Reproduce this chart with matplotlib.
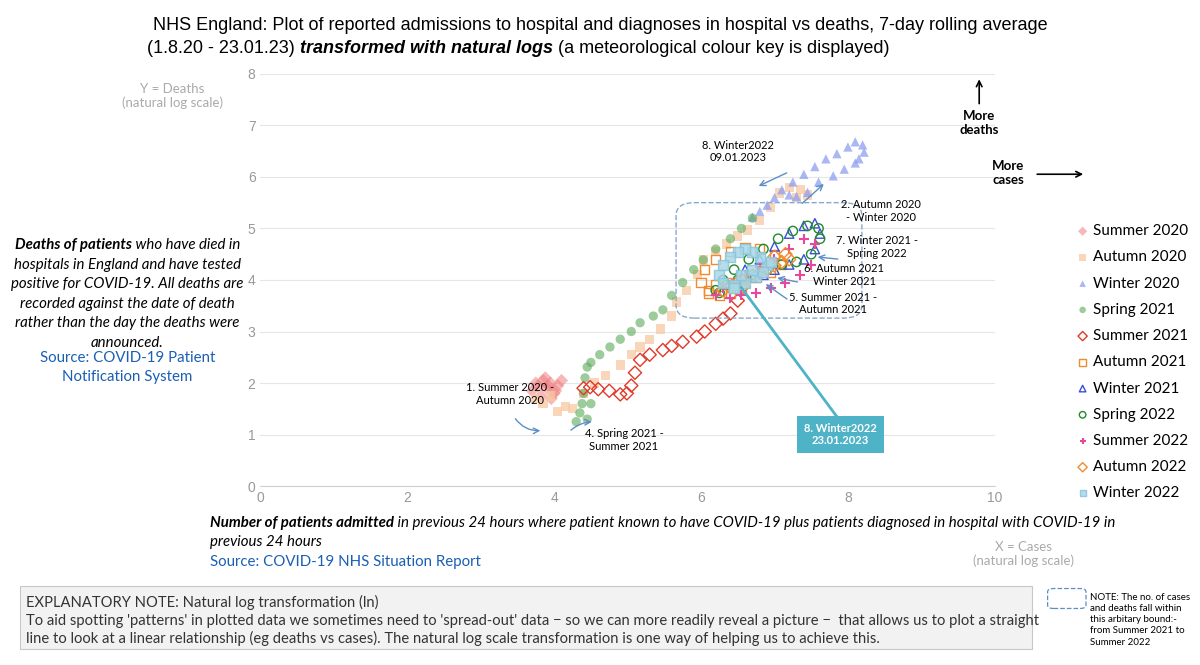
import matplotlib
matplotlib.use("Agg")
import matplotlib.pyplot as plt
from matplotlib.patches import FancyBboxPatch, Rectangle

plt.rcParams['font.family'] = ['Lato', 'DejaVu Sans']

su20_x = [3.70,3.78,3.85,3.90,3.95,4.00,4.05,4.10,3.82,3.88,3.96,4.02,3.75,3.92]
su20_y = [1.85,1.95,2.05,1.90,2.00,1.80,1.95,2.05,1.75,2.10,1.70,1.85,2.00,1.95]
au20_x = [3.75,3.85,3.95,4.05,4.15,4.25,4.40,4.55,4.70,4.90,5.05,5.17,5.30,5.45,5.60,5.67,5.80,5.95,6.03,6.20,6.35,6.50,6.63,6.80,6.95,7.07,7.20,7.35,7.45,7.30]
au20_y = [1.70,1.60,1.75,1.45,1.55,1.50,1.80,2.00,2.15,2.35,2.55,2.70,2.85,3.05,3.30,3.57,3.80,4.10,4.39,4.55,4.70,4.85,4.97,5.15,5.40,5.69,5.80,5.75,5.65,5.60]
wi20_x = [6.70,6.80,6.90,7.00,7.10,7.25,7.40,7.55,7.70,7.85,8.00,8.10,8.20,8.22,8.15,8.10,7.95,7.80,7.60,7.45,7.30,7.20]
wi20_y = [5.22,5.33,5.45,5.60,5.75,5.90,6.05,6.20,6.35,6.45,6.58,6.68,6.62,6.48,6.35,6.27,6.15,6.02,5.90,5.70,5.62,5.65]
sp21_x = [6.70,6.55,6.40,6.20,6.03,5.90,5.75,5.60,5.48,5.35,5.17,5.05,4.90,4.76,4.62,4.50,4.45,4.42,4.40,4.38,4.35,4.30,4.45,4.50]
sp21_y = [5.20,5.00,4.80,4.60,4.39,4.20,3.95,3.70,3.42,3.30,3.17,3.00,2.85,2.70,2.55,2.40,2.31,2.10,1.80,1.60,1.42,1.25,1.30,1.60]
su21_x = [4.40,4.49,4.60,4.75,4.90,4.99,5.05,5.10,5.17,5.30,5.48,5.60,5.75,5.94,6.05,6.20,6.30,6.40,6.50,6.57]
su21_y = [1.90,1.92,1.88,1.85,1.78,1.80,1.95,2.20,2.45,2.55,2.64,2.72,2.80,2.90,3.00,3.15,3.25,3.35,3.60,3.87]
au21_x = [6.55,6.40,6.25,6.10,6.00,6.05,6.20,6.40,6.60,6.80,7.00,7.10,6.95,6.75,6.55,6.35,6.20,6.10]
au21_y = [3.85,3.75,3.70,3.75,3.95,4.20,4.40,4.55,4.62,4.60,4.50,4.30,4.15,4.05,4.00,3.95,3.90,3.80]
wi21_x = [6.60,6.80,7.00,7.20,7.40,7.55,7.62,7.55,7.40,7.20,7.00,6.85,6.70]
wi21_y = [4.20,4.40,4.65,4.90,5.05,5.10,4.90,4.60,4.40,4.30,4.20,4.10,4.05]
sp22_x = [6.20,6.30,6.45,6.65,6.85,7.05,7.25,7.45,7.60,7.62,7.50,7.30,7.10,6.90,6.70,6.50,6.35,6.25]
sp22_y = [3.80,4.00,4.20,4.40,4.60,4.80,4.95,5.05,5.00,4.80,4.50,4.35,4.30,4.20,4.10,4.00,3.90,3.75]
su22_x = [6.20,6.30,6.45,6.60,6.80,7.00,7.20,7.40,7.55,7.50,7.35,7.15,6.95,6.75,6.55,6.40]
su22_y = [3.70,3.85,3.95,4.10,4.25,4.40,4.60,4.80,4.70,4.30,4.10,3.95,3.85,3.75,3.70,3.65]
au22_x = [6.30,6.40,6.50,6.60,6.70,6.80,6.90,7.00,7.10,7.20,7.15,7.00]
au22_y = [3.80,3.85,3.95,4.00,4.08,4.15,4.20,4.28,4.35,4.40,4.50,4.45]
wi22_x = [6.90,6.80,6.70,6.60,6.50,6.40,6.30,6.25,6.30,6.45,6.60,6.75,6.85,6.95,6.70,6.55,6.45]
wi22_y = [4.30,4.45,4.55,4.60,4.55,4.45,4.30,4.10,3.95,3.90,3.95,4.05,4.15,4.35,4.20,4.10,3.85]

fig = plt.figure(figsize=(12, 6.65), dpi=100)
ax = fig.add_axes([0.217, 0.269, 0.612, 0.62])
ax.set_xlim(0, 10); ax.set_ylim(0, 8)
ax.set_xticks(range(0, 11, 2)); ax.set_yticks(range(0, 9))
ax.grid(axis='y', color='#e6e6e6', lw=0.8)
ax.set_axisbelow(True)
for s in ['top', 'right', 'left']:
    ax.spines[s].set_visible(False)
ax.spines['bottom'].set_color('#d0d0d0')
ax.tick_params(colors='#999999', labelsize=10, length=0)
for t in ax.get_xticklabels() + ax.get_yticklabels():
    t.set_family('Liberation Sans')

ms = 45
series = [
    ("Summer 2020", su20_x, su20_y, dict(marker='D', c='#f08080', alpha=0.55, edgecolors='none', s=ms)),
    ("Autumn 2020", au20_x, au20_y, dict(marker='s', c='#f8c9a2', alpha=0.75, edgecolors='none', s=ms)),
    ("Winter 2020", wi20_x, wi20_y, dict(marker='^', c='#8f9ff0', alpha=0.75, edgecolors='none', s=ms)),
    ("Spring 2021", sp21_x, sp21_y, dict(marker='o', c='#5aaa5a', alpha=0.6, edgecolors='none', s=ms)),
    ("Summer 2021", su21_x, su21_y, dict(marker='D', facecolors='none', edgecolors='#e03a2a', s=ms)),
    ("Autumn 2021", au21_x, au21_y, dict(marker='s', facecolors='none', edgecolors='#f08c30', s=ms)),
    ("Winter 2021", wi21_x, wi21_y, dict(marker='^', facecolors='none', edgecolors='#3b4fd8', s=ms)),
    ("Spring 2022", sp22_x, sp22_y, dict(marker='o', facecolors='none', edgecolors='#1f8a2a', s=ms)),
    ("Summer 2022", su22_x, su22_y, dict(marker='+', c='#e8489a', s=ms)),
    ("Autumn 2022", au22_x, au22_y, dict(marker='D', facecolors='none', edgecolors='#f08c30', s=ms)),
    ("Winter 2022", wi22_x, wi22_y, dict(marker='s', c='#a8d8e8', alpha=0.85, edgecolors='#8ac4da', s=ms)),
]
for name, xs, ys, kw in series:
    ax.scatter(xs, ys, label=name, **kw)

leg = fig.legend(loc='upper left', bbox_to_anchor=(0.892, 0.672), frameon=False, borderaxespad=0,
                 fontsize=11, handletextpad=0.3, handlelength=0.8, labelspacing=0.8, markerscale=0.7)

box = FancyBboxPatch((5.66, 3.26), 2.53, 2.24, boxstyle="round,pad=0,rounding_size=0.25",
                     fill=False, ls='--', ec='#8aa8cc', lw=1)
ax.add_patch(box)

ac = '#5b8fc8'
fs = 8
ax.text(3.4, 1.6, "1. Summer 2020 -\nAutumn 2020", fontsize=fs, ha='center')
ax.annotate("", xy=(3.85, 1.08), xytext=(3.45, 1.35), arrowprops=dict(arrowstyle='->', color=ac, connectionstyle='arc3,rad=0.3'))
ax.text(4.95, 0.7, "4. Spring 2021 -\nSummer 2021", fontsize=fs, ha='center')
ax.annotate("", xy=(4.55, 1.25), xytext=(4.2, 1.05), arrowprops=dict(arrowstyle='->', color=ac, connectionstyle='arc3,rad=-0.2'))
ax.text(6.5, 6.3, "8. Winter2022\n09.01.2023", fontsize=fs, ha='center')
ax.annotate("", xy=(6.75, 5.8), xytext=(7.2, 6.1), arrowprops=dict(arrowstyle='->', color=ac))
ax.text(8.45, 5.15, "2. Autumn 2020\n- Winter 2020", fontsize=fs, ha='center')
ax.annotate("", xy=(7.7, 5.9), xytext=(7.35, 5.45), arrowprops=dict(arrowstyle='->', color=ac))
ax.text(8.4, 4.45, "7. Winter 2021 -\nSpring 2022", fontsize=fs, ha='center')
ax.annotate("", xy=(7.55, 4.45), xytext=(7.9, 4.4), arrowprops=dict(arrowstyle='->', color=ac))
ax.text(7.95, 3.9, "6. Autumn 2021\nWinter 2021", fontsize=fs, ha='center')
ax.annotate("", xy=(7.0, 4.05), xytext=(7.35, 3.95), arrowprops=dict(arrowstyle='->', color=ac))
ax.text(7.8, 3.35, "5. Summer 2021 -\nAutumn 2021", fontsize=fs, ha='center')
ax.annotate("", xy=(6.85, 3.95), xytext=(7.2, 3.6), arrowprops=dict(arrowstyle='->', color=ac))
ax.plot([6.55, 7.9], [3.85, 1.25], color='#4fb3c8', lw=2)
ax.text(7.9, 1.0, "8. Winter2022\n23.01.2023", fontsize=fs, ha='center', va='center', color='white',
        fontweight='bold', bbox=dict(boxstyle='square,pad=0.6', fc='#4fb3c8', ec='none'))

ax.text(-1.2, 7.35, "Y = Deaths\n(natural log scale)", color='#aaaaaa', fontsize=9.5, ha='center')
fig.text(0.853, 0.15, "X = Cases\n(natural log scale)", color='#aaaaaa', fontsize=9.5, ha='center')

fig.canvas.draw()
r = fig.canvas.get_renderer()
W = fig.bbox.width
def run(x, y, parts, center=False, **kw):
    texts = []
    for txt, extra in parts:
        k = dict(kw); k.update(extra)
        t = fig.text(x, y, txt, ha='left', **k)
        x = t.get_window_extent(r).x1 / W
        texts.append(t)
    if center:
        x0 = texts[0].get_window_extent(r).x0 / W
        shift = center - (x0 + x) / 2
        for t in texts:
            px, py = t.get_position()
            t.set_position((px + shift, py))

tf = dict(family='Liberation Sans', fontsize=13, va='top')
fig.text(0.5, 0.975, "NHS England: Plot of reported admissions to hospital and diagnoses in hospital vs deaths, 7-day rolling average",
         ha='center', **tf)
run(0.1225, 0.94, [("(1.8.20 - 23.01.23) ", {}), ("transformed with natural logs", dict(fontweight='bold', style='italic')),
                  (" (a meteorological colour key is displayed)", {})], **tf)

fig.text(0.816, 0.835, "More\ndeaths", fontsize=9.5, fontweight='bold', ha='center', va='top')
ax.annotate("", xy=(0.816, 0.885), xytext=(0.816, 0.84), xycoords='figure fraction', textcoords='figure fraction',
            arrowprops=dict(arrowstyle='->', lw=1.2), annotation_clip=False)
fig.text(0.84, 0.74, "More\ncases", fontsize=9.5, fontweight='bold', ha='center', va='center')
ax.annotate("", xy=(0.905, 0.738), xytext=(0.862, 0.738), xycoords='figure fraction', textcoords='figure fraction',
            arrowprops=dict(arrowstyle='->', lw=1.2), annotation_clip=False)

lf = 10.8
bf = dict(fontsize=lf, style='italic', va='center')
def yf(py):
    return 1 - py / 665
run(0.01, yf(245), [("Deaths of patients", dict(fontweight='bold')), (" who have died in", {})], center=0.106, **bf)
for i, line in enumerate(["hospitals in England and have tested", "positive for COVID-19. All deaths are",
                          "recorded against the date of death", "rather than the day the deaths were", "announced."]):
    fig.text(0.106, yf(265 + 19.4 * i), line, ha='center', **bf)
fig.text(0.106, yf(358), "Source: COVID-19 Patient", fontsize=lf, color='#1a5fb4', ha='center', va='center')
fig.text(0.106, yf(377), "Notification System", fontsize=lf, color='#1a5fb4', ha='center', va='center')

run(0.175, yf(523), [("Number of patients admitted", dict(fontweight='bold')),
                     (" in previous 24 hours where patient known to have COVID-19 plus patients diagnosed in hospital with COVID-19 in", {})], **bf)
fig.text(0.175, yf(542), "previous 24 hours", **bf)
fig.text(0.175, yf(562), "Source: COVID-19 NHS Situation Report", fontsize=lf, color='#1a5fb4', ha='left', va='center')

fig.patches.append(Rectangle((0.2 / 12, 0.024), 0.843, 0.095, transform=fig.transFigure,
                             fc='#f2f2f2', ec='#c8c8c8', lw=0.8))
fig.text(0.022, 0.105, "EXPLANATORY NOTE: Natural log transformation (ln)\nTo aid spotting 'patterns' in plotted data we sometimes need to 'spread-out' data \u2212 so we can more readily reveal a picture \u2212  that allows us to plot a straight\nline to look at a linear relationship (eg deaths vs cases). The natural log scale transformation is one way of helping us to achieve this.",
         fontsize=10.6, ha='left', va='top', linespacing=1.3, color='#333333')

fig.patches.append(FancyBboxPatch((0.873, 0.085), 0.032, 0.03, boxstyle='round,pad=0,rounding_size=0.005',
                                  transform=fig.transFigure, fill=False, ls='--', ec='#5b8fc8', lw=0.9))
fig.text(0.908, 0.108, "NOTE: The no. of cases\nand deaths fall within\nthis arbitary bound:-\nfrom Summer 2021 to\nSummer 2022",
         fontsize=7, ha='left', va='top', linespacing=1.3)

fig.savefig("out.png", dpi=100)
